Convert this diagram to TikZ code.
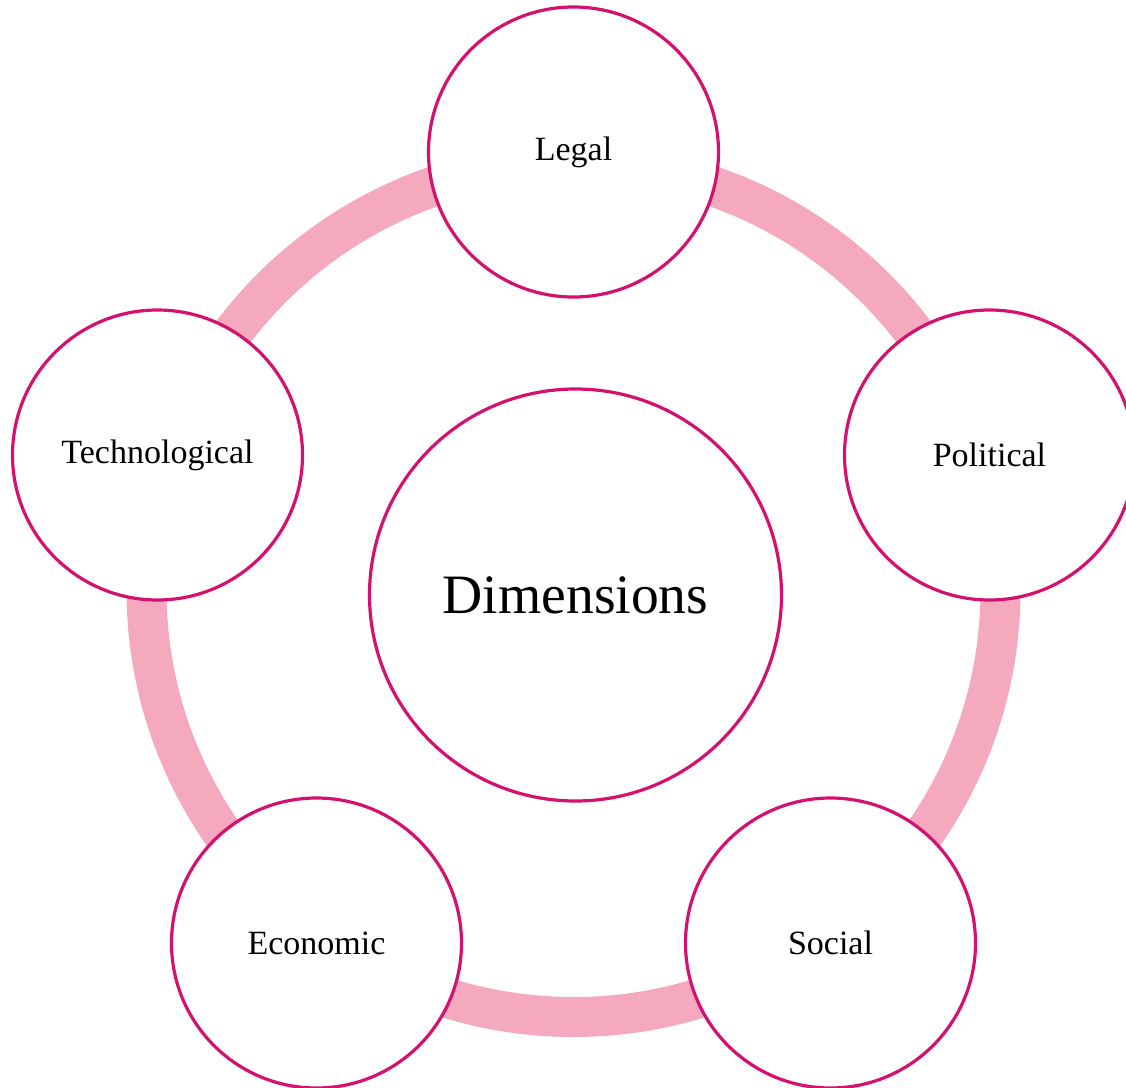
\documentclass[tikz,border=0pt]{standalone}
\usepackage{fontspec}
\setmainfont{Liberation Serif}
\definecolor{ringpink}{HTML}{F4A9BF}
\definecolor{rimpink}{HTML}{D4116E}
\tikzset{
  dimcircle/.style={circle,draw=rimpink,line width=1.6pt,fill=white,inner sep=0pt},
  bigcircle/.style={dimcircle,minimum size=206pt,font=\fontsize{27.8}{32}\selectfont},
  smallcircle/.style={dimcircle,minimum size=145pt,font=\fontsize{17}{20}\selectfont},
  ring/.style={draw=ringpink,line width=20pt}
}
\begin{document}
\begin{tikzpicture}[x=0.5pt,y=-0.5pt]
      \useasboundingbox (0,0) rectangle (1126,1088);
      \coordinate (mid) at (573.5,590);
      \draw[ring] (mid) circle[radius=427];
      \draw
        (575.5,595) node[bigcircle] (dim){Dimensions}
        (573.5,152) node[smallcircle] (legal){Legal}
        (989.5,455) node[smallcircle] (pol){Political}
        (830.5,943) node[smallcircle] (soc){Social}
        (316.5,943) node[smallcircle] (eco){Economic}
        (157.5,455) node[smallcircle] (tech){Technological};
    \end{tikzpicture}
\end{document}
